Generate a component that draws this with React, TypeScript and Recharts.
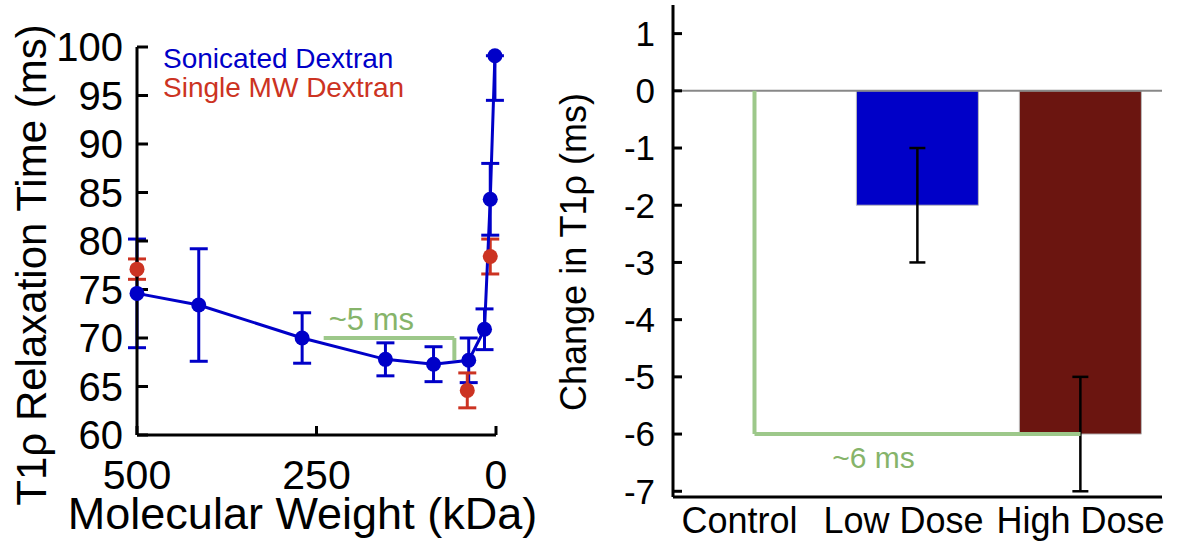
import React from "react";
import {
  Bar,
  BarChart,
  Cell,
  ErrorBar,
  Label,
  Legend,
  ReferenceLine,
  Scatter,
  ScatterChart,
  XAxis,
  YAxis,
} from "recharts";

const FONT = "'Liberation Sans', Arial, Helvetica, sans-serif";

// left panel: T1rho vs molecular weight
const sonicatedMw = [500, 414, 270, 154, 87, 38, 16, 8, 1.5];
const sonicatedT1rho = [74.6, 73.4, 70.0, 67.8, 67.3, 67.7, 70.9, 84.3, 99.1];
const sonicatedErrLow = [5.6, 5.8, 2.6, 1.7, 1.8, 2.3, 2.1, 3.7, 4.6];
const sonicatedErrHigh = [5.6, 5.8, 2.6, 1.7, 1.8, 2.3, 2.1, 3.7, 0];

const singleMw = [500, 40, 8];
const singleT1rho = [77.1, 64.6, 78.4];
const singleErr = [1.05, 1.8, 1.8];

const mwTicks = [500, 250, 0];
const t1rhoTicks = [60, 65, 70, 75, 80, 85, 90, 95, 100];

// "~5 ms" bracket, in data units
const bracketMw = [240, 58];
const bracketT1rho = [70, 67.7];

// right panel: change in T1rho by dose
const groups = ["Control", "Low Dose", "High Dose"];
const changeMeans = [0, -2, -6];
const changeErr = [1, 1, 1];
const changeTicks = [1, 0, -1, -2, -3, -4, -5, -6, -7];

const blue = "#0000c8";
const red = "#cc3322";
const brown = "#6b1510";
const green = "#9dc88a";
const greenText = "#86b46a";
const barColors = [blue, blue, brown];
const labelShift = [-15, -14, 0];

const seriesNames = ["Sonicated Dextran", "Single MW Dextran"];
const seriesColors = [blue, red];

const sonicatedData = sonicatedMw.map((mw, i) => ({
  mw,
  t1rho: sonicatedT1rho[i],
  err: [sonicatedErrLow[i], sonicatedErrHigh[i]],
}));
const singleData = singleMw.map((mw, i) => ({ mw, t1rho: singleT1rho[i], err: singleErr[i] }));
const doseData = groups.map((group, i) => ({ group, change: changeMeans[i], err: changeErr[i] }));

const dot = (color: string) => (p: any) => <circle cx={p.cx} cy={p.cy} r={7.5} fill={color} />;

function SeriesLegend() {
  return (
    <div style={{ fontSize: 28, lineHeight: "29px", whiteSpace: "nowrap" }}>
      {seriesNames.map((name, i) => (
        <div key={name} style={{ color: seriesColors[i] }}>
          {name}
        </div>
      ))}
    </div>
  );
}

function DoseTick(props: any) {
  const { x, y, payload, index } = props;
  const i = payload?.index ?? index ?? 0;
  return (
    <text x={x + (labelShift[i] || 0)} y={y} dy="0.71em" textAnchor="middle" fontSize={36} fill="#000">
      {payload.value}
    </text>
  );
}

const axisStroke = { stroke: "#000", strokeWidth: 3 };

function MwChart() {
  return (
    <ScatterChart width={570} height={543} margin={{ top: 47, right: 74, bottom: 0, left: 0 }}>
      <XAxis
        type="number"
        dataKey="mw"
        domain={[0, 500]}
        reversed
        ticks={mwTicks}
        interval={0}
        height={108}
        tickSize={-9}
        tickMargin={34}
        axisLine={axisStroke}
        tickLine={axisStroke}
        tick={{ fontSize: 41, fill: "#000" }}
      >
        <Label
          content={(props: any) => {
            const vb = props.viewBox;
            return (
              <text x={vb.x + vb.width / 2 - 14} y={vb.y + 94} textAnchor="middle" fontSize={45} fill="#000">
                Molecular Weight (kDa)
              </text>
            );
          }}
        />
      </XAxis>
      <YAxis
        type="number"
        dataKey="t1rho"
        domain={[60, 100]}
        ticks={t1rhoTicks}
        interval={0}
        width={137}
        tickSize={-11}
        tickMargin={25}
        axisLine={axisStroke}
        tickLine={axisStroke}
        tick={{ fontSize: 40, fill: "#000" }}
      >
        <Label
          content={(props: any) => {
            const vb = props.viewBox;
            const cy = vb.y + vb.height / 2 + 24;
            return (
              <text transform={`translate(${vb.x + 46}, ${cy}) rotate(-90)`} textAnchor="middle" fontSize={42} fill="#000">
                T1ρ Relaxation Time (ms)
              </text>
            );
          }}
        />
      </YAxis>
      <Legend
        layout="vertical"
        align="center"
        verticalAlign="middle"
        wrapperStyle={{ left: 163, top: 44, width: "auto", height: "auto" }}
        content={() => <SeriesLegend />}
      />
      <ReferenceLine
        segment={[
          { x: bracketMw[0], y: bracketT1rho[0] },
          { x: bracketMw[1], y: bracketT1rho[0] },
        ]}
        stroke={green}
        strokeWidth={4}
        label={(props: any) => {
          const vb = props.viewBox;
          return (
            <text x={vb.x + 5} y={vb.y - 8} fontSize={31} fill={greenText}>
              ~5 ms
            </text>
          );
        }}
      />
      <ReferenceLine
        segment={[
          { x: bracketMw[1], y: bracketT1rho[0] },
          { x: bracketMw[1], y: bracketT1rho[1] },
        ]}
        stroke={green}
        strokeWidth={4}
      />
      <Scatter
        name={seriesNames[0]}
        data={sonicatedData}
        fill={blue}
        line={{ stroke: blue, strokeWidth: 3 }}
        lineType="joint"
        shape={dot(blue)}
        isAnimationActive={false}
      >
        <ErrorBar dataKey="err" direction="y" width={9} stroke={blue} strokeWidth={3} />
      </Scatter>
      <Scatter name={seriesNames[1]} data={singleData} fill={red} shape={dot(red)} isAnimationActive={false}>
        <ErrorBar dataKey="err" direction="y" width={9} stroke={red} strokeWidth={3} />
      </Scatter>
    </ScatterChart>
  );
}

function DoseChart() {
  return (
    <BarChart
      width={647}
      height={543}
      data={doseData}
      margin={{ top: 5, right: 25, bottom: 0, left: 0 }}
      barCategoryGap="12.5%"
    >
      <XAxis
        dataKey="group"
        height={46}
        interval={0}
        tickSize={0}
        tickMargin={10}
        axisLine={axisStroke}
        tickLine={false}
        tick={<DoseTick />}
      />
      <YAxis
        type="number"
        domain={[-7.1, 1.5]}
        ticks={changeTicks}
        interval={0}
        width={133}
        tickSize={-9}
        tickMargin={27}
        axisLine={axisStroke}
        tickLine={axisStroke}
        tick={{ fontSize: 35, fill: "#000" }}
      >
        <Label
          content={(props: any) => {
            const vb = props.viewBox;
            const cy = vb.y + vb.height / 2 + 1;
            return (
              <text transform={`translate(${vb.x + 46}, ${cy}) rotate(-90)`} textAnchor="middle" fontSize={36} fill="#000">
                Change in T1ρ (ms)
              </text>
            );
          }}
        />
      </YAxis>
      <ReferenceLine y={0} stroke="#888" strokeWidth={2} />
      <Bar dataKey="change" stroke="#bbb" strokeWidth={1} isAnimationActive={false}>
        {doseData.map((d, i) => (
          <Cell key={d.group} fill={barColors[i]} />
        ))}
        <ErrorBar dataKey="err" width={8} stroke="#000" strokeWidth={2.5} />
      </Bar>
      <ReferenceLine
        segment={[
          { x: groups[0], y: changeMeans[0] },
          { x: groups[0], y: changeMeans[2] },
        ]}
        stroke={green}
        strokeWidth={4}
      />
      <ReferenceLine
        segment={[
          { x: groups[0], y: changeMeans[2] },
          { x: groups[2], y: changeMeans[2] },
        ]}
        stroke={green}
        strokeWidth={4}
        label={(props: any) => {
          const vb = props.viewBox;
          return (
            <text x={vb.x + 119} y={vb.y + 34} textAnchor="middle" fontSize={30} fill={greenText}>
              ~6 ms
            </text>
          );
        }}
      />
    </BarChart>
  );
}

export default function App() {
  return (
    <div
      style={{
        position: "absolute",
        left: 0,
        top: 0,
        width: 1187,
        height: 543,
        background: "#fff",
        fontFamily: FONT,
        overflow: "hidden",
      }}
    >
      <div style={{ position: "absolute", left: 0, top: 0 }}>
        <MwChart />
      </div>
      <div style={{ position: "absolute", left: 540, top: 0 }}>
        <DoseChart />
      </div>
    </div>
  );
}
